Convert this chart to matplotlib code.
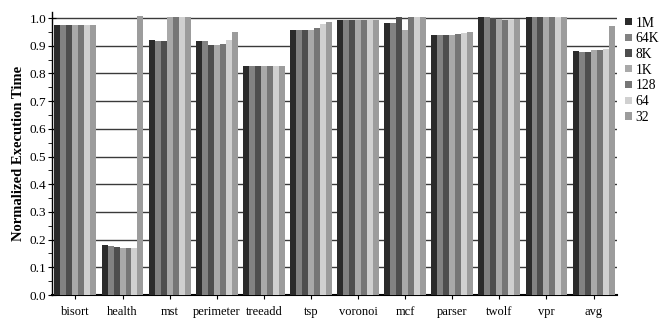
import numpy as np
import matplotlib
matplotlib.use("Agg")
import matplotlib.pyplot as plt
from matplotlib.patches import Patch
from matplotlib.ticker import MultipleLocator

plt.rcParams['font.family'] = ['Liberation Serif', 'DejaVu Serif']

benchmarks = ["bisort", "health", "mst", "perimeter", "treeadd", "tsp",
              "voronoi", "mcf", "parser", "twolf", "vpr", "avg"]
sizes = ["1M", "64K", "8K", "1K", "128", "64", "32"]

# one list per cache size, one value per benchmark
v_1M  = [0.973, 0.179, 0.920, 0.917, 0.826, 0.956, 0.994, 0.981, 0.940, 1.005, 1.003, 0.881]
v_64K = [0.973, 0.178, 0.918, 0.917, 0.826, 0.955, 0.994, 0.981, 0.940, 1.005, 1.003, 0.878]
v_8K  = [0.973, 0.173, 0.918, 0.903, 0.826, 0.955, 0.994, 1.002, 0.940, 1.000, 1.003, 0.877]
v_1K  = [0.973, 0.171, 1.002, 0.903, 0.826, 0.955, 0.994, 0.958, 0.940, 0.998, 1.003, 0.885]
v_128 = [0.973, 0.171, 1.002, 0.905, 0.826, 0.964, 0.994, 1.002, 0.941, 0.994, 1.003, 0.886]
v_64  = [0.973, 0.171, 1.002, 0.920, 0.826, 0.978, 0.994, 1.003, 0.945, 0.993, 1.000, 0.889]
v_32  = [0.973, 1.007, 1.002, 0.948, 0.826, 0.984, 0.994, 1.002, 0.948, 0.998, 1.003, 0.971]

series = [v_1M, v_64K, v_8K, v_1K, v_128, v_64, v_32]
colors = ["#2b2b2b", "#828282", "#4e4e4e", "#a9a9a9", "#767676", "#d0d0d0", "#9c9c9c"]

fig = plt.figure(figsize=(6.65, 3.2), dpi=100)
ax = fig.add_axes([0.078, 0.078, 0.85, 0.883])

x = np.arange(len(benchmarks))
w = 0.127
for i, vals in enumerate(series):
    ax.bar(x + (i - 3) * w, vals, width=w, color=colors[i], linewidth=0, zorder=3)

ax.set_xlim(-0.5, len(benchmarks) - 0.5)
ax.set_ylim(0, 1.02)
ax.yaxis.set_major_locator(MultipleLocator(0.1))
ax.yaxis.set_minor_locator(MultipleLocator(0.05))
ax.yaxis.set_major_formatter(matplotlib.ticker.FormatStrFormatter('%.1f'))
ax.grid(axis='y', color='#3a3a3a', linewidth=1.0, zorder=1)

ax.set_xticks(x)
ax.set_xticklabels(benchmarks, fontsize=9)
ax.tick_params(axis='x', direction='out', length=3, pad=5)
ax.tick_params(axis='y', which='major', direction='inout', length=6, labelsize=9.5, pad=1)
ax.tick_params(axis='y', which='minor', direction='out', length=3)

ax.spines['top'].set_visible(False)
ax.spines['right'].set_visible(False)
ax.spines['bottom'].set_linewidth(1.5)
ax.spines['left'].set_linewidth(1.0)

ax.set_ylabel("Normalized Execution Time", fontsize=10.5, fontweight='bold', labelpad=3)

handles = [Patch(facecolor=c, edgecolor='none') for c in colors]
ax.legend(handles, sizes, loc='upper left', bbox_to_anchor=(1.005, 1.005),
          frameon=False, fontsize=9.8, handlelength=0.5, handleheight=0.45,
          handletextpad=0.25, labelspacing=0.2, borderaxespad=0)

fig.savefig("out.png", dpi=100)
